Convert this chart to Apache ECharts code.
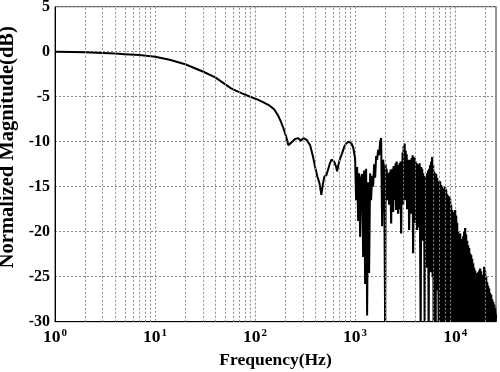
<!DOCTYPE html>
<html><head><meta charset="utf-8">
<script src="https://cdn.jsdelivr.net/npm/echarts@6/dist/echarts.min.js"></script>
<style>html,body{margin:0;padding:0;background:#fff}#c{width:500px;height:372px}</style>
</head><body><div id="c"></div>
<script>
// Frequency (Hz) and normalized magnitude (dB)
const freqHz = [
  1,1.5,2,3,4,5,7,10,14,20,30,40,50,57,65,75,89,105,120,140,155,170,180,192,204,215,225,235,251,270,286,304,328,355,380,398,420,440,460,475,492,517,538,560,580,617,646,660,680,708,741,776,813,860,890,920,960,
  1000,1023,1047,1072,1096,1122,1148,1175,1202,1230,1259,1288,1318,1349,1380,1413,1445,1479,1514,1549,1585,1622,1660,1698,1738,1778,1820,1862,1905,1950,
  1995,2018,2042,2065,2089,2113,2138,2163,2188,2213,2239,2265,2291,2317,2344,2371,2399,2427,2455,2483,2512,2541,2570,2600,2630,2661,2692,2723,2754,2786,
  2818,2851,2884,2917,2951,2985,3020,3055,3090,3126,3162,3199,3236,3273,3311,3350,3388,3428,3467,3508,3548,3589,3631,3673,3715,3758,3802,3846,3890,3936,
  3981,4027,4074,4121,4169,4217,4266,4315,4365,4416,
  4467,4519,4571,4624,4677,4732,4786,4842,4898,4955,5012,5070,5129,5188,5248,5309,5370,5433,5495,5559,5623,5689,5754,5821,5888,5957,6026,6095,6166,6237,
  6310,6383,6457,6532,6607,6684,6761,6839,6918,6998,7079,7161,7244,7328,7413,7499,7586,7674,7762,7852,7943,8035,8128,8222,8318,8414,8511,8610,8710,8811,
  8913,9016,9120,9226,9333,9441,9550,9661,9772,9886,10000,10116,10233,10351,10471,10593,10715,10839,10965,11092,11220,11350,11482,11615,11749,11885,12023,12162,12303,12445,
  12589,12735,12882,13032,13183,13335,13490,13646,13804,13964,14125,14289,14454,14622,14791,14962,15136,15311,15488,15668,15849,16032,16218,16406,16596,16788,16982,17179,17378,17579,
  17783,17989,18197,18408,18621,18836,19055,19275,19498,19724,19953,20184,20417,20654,20893,21135,21380,21627,21878,22131,22387,22646,22909,23174,23442,23714,23988,24266,24547,24831,
  25119,25410,25600
];
const magDb = [
  0,-0.03,-0.07,-0.15,-0.21,-0.27,-0.38,-0.55,-0.9,-1.4,-2.2,-2.85,-3.6,-4.05,-4.35,-4.65,-5.0,-5.3,-5.6,-6.0,-6.4,-7.1,-7.7,-8.5,-9.4,-10.4,-10.2,-10.0,-9.7,-9.6,-9.9,-9.6,-9.8,-10.4,-11.7,-12.8,-13.9,-14.6,-15.9,-14.8,-13.9,-13.7,-13.5,-12.4,-12.0,-12.2,-12.8,-13.3,-12.6,-11.85,-11.3,-10.6,-10.2,-10.0,-9.9,-10.2,-10.7,
  -11.9,-16.5,-12.8,-18.8,-13.5,-20.6,-14.0,-13.6,-22.8,-13.2,-25.8,-13.0,-29.3,-14.5,-24.6,-13.5,-16.5,-13.8,-15.0,-12.5,-14.0,-11.6,-12.0,-10.9,-11.5,-10.0,-9.6,-19.4,-12.0,-13.2,
  -30,-12.5,-16.0,-13.0,-16.5,-13.5,-15.5,-13.8,-17.0,-13.4,-16.0,-13.1,-19.1,-13.6,-16.5,-13.0,-17.8,-12.7,-15.0,-12.9,-16.5,-12.4,-17.6,-12.2,-15.6,-12.6,-18.0,-12.8,-16.0,-12.4,
  -17.5,-12.2,-20.2,-12.5,-16.5,-11.2,-17.0,-10.5,-15.5,-10.2,-16.5,-11.0,-15.5,-11.4,-17.5,-12.0,-16.0,-12.3,-19.8,-12.0,-16.5,-12.2,-18.0,-11.8,-16.5,-11.5,-22.4,-11.7,-17.0,-11.8,
  -19.0,-12.2,-17.0,-12.4,-19.8,-12.5,-17.5,-12.6,-19.5,-12.4,
  -12.5,-30,-12.8,-19.4,-13.0,-21.0,-13.5,-18.0,-13.8,-30,-14.1,-21.2,-13.8,-24.0,-13.5,-19.0,-13.2,-30,-13.0,-22.0,-12.6,-24.5,-12.2,-20.0,-11.7,-25.0,-12.5,-30,-13.3,-22.0,
  -13.5,-30,-13.6,-26.5,-14.0,-23.0,-14.4,-30,-14.6,-28.0,-14.4,-30,-14.8,-29.5,-15.0,-30,-15.2,-27.0,-15.2,-30,-15.0,-30,-15.3,-28.0,-15.8,-30,-16.0,-30,-16.1,-29.0,
  -16.3,-30,-17.0,-30,-17.6,-27.5,-18.0,-30,-17.8,-30,-17.6,-30,-18.2,-29.0,-19.0,-30,-20.0,-30,-20.6,-30,-20.2,-28.0,-20.8,-30,-21.0,-30,-20.5,-26.0,-20.0,-30,
  -19.6,-30,-20.3,-30,-21.0,-28.5,-21.5,-30,-21.8,-30,-22.4,-30,-22.6,-29.0,-23.0,-30,-23.5,-30,-24.0,-30,-24.3,-30,-25.0,-29.5,-24.6,-30,-24.5,-30,-24.3,-30,
  -24.1,-30,-24.4,-30,-25.3,-30,-24.8,-30,-23.9,-30,-24.3,-30,-25.0,-30,-25.6,-30,-26.0,-30,-26.3,-30,-26.8,-30,-27.0,-30,-27.5,-30,-27.8,-30,-28.1,-30,
  -28.5,-30,-29.2
];
const denseStartHz = 1995;   // where the response becomes a dense scribble
const decadeTicks = [1, 10, 100, 1000, 10000];
const decadeExponents = ['0', '1', '2', '3', '4'];
const minorGridHz = [2,3,4,5,6,7,8,9,20,30,40,50,60,70,80,90,200,300,400,500,600,700,800,900,2000,3000,4000,5000,6000,7000,8000,9000,20000];
const xMin = 1, xMax = 25600, yMin = -30, yMax = 5, yStep = 5;

const serif = 'Liberation Serif';
const gridLine = { color: '#8c8c8c', width: 1, type: [2, 2] };

const pts = freqHz.map(function (f, i) { return [f, magDb[i]]; });
const sparse = pts.filter(function (p) { return p[0] <= denseStartHz; });
const dense = pts.filter(function (p) { return p[0] >= denseStartHz; });

const chart = echarts.init(document.getElementById('c'), null, { renderer: 'canvas' });
chart.setOption({
  animation: false,
  backgroundColor: '#fff',
  grid: { left: 55, right: 4, top: 6.7, bottom: 50.3, outerBoundsMode: 'none', containLabel: false,
          show: true, borderColor: '#333', borderWidth: 1, backgroundColor: 'transparent' },
  xAxis: {
    type: 'log', logBase: 10, min: xMin, max: xMax,
    name: 'Frequency(Hz)', nameLocation: 'middle', nameGap: 27,
    nameTextStyle: { fontFamily: serif, fontWeight: 'bold', fontSize: 17.5, color: '#000' },
    axisLine: { onZero: false, lineStyle: { color: '#000', width: 1 } },
    axisTick: { show: false },
    splitLine: { show: true, lineStyle: gridLine },
    axisLabel: {
      showMaxLabel: false, margin: 6,
      formatter: function (v) {
        const i = decadeTicks.indexOf(Math.round(v));
        return i < 0 ? '' : '{b|10}{s|' + decadeExponents[i] + '}';
      },
      rich: {
        b: { fontFamily: serif, fontWeight: 'bold', fontSize: 17.5, color: '#000', lineHeight: 20 },
        s: { fontFamily: serif, fontWeight: 'bold', fontSize: 11, color: '#000', verticalAlign: 'top', lineHeight: 20, padding: [0, 0, 8, 1] }
      }
    }
  },
  yAxis: {
    type: 'value', min: yMin, max: yMax, interval: yStep,
    name: 'Normalized Magnitude(dB)', nameLocation: 'middle', nameGap: 33, nameRotate: 90,
    nameTextStyle: { fontFamily: serif, fontWeight: 'bold', fontSize: 20.5, color: '#000', padding: [0, 0, 0, 34] },
    axisLine: { show: true, onZero: false, lineStyle: { color: '#000', width: 1 } },
    axisTick: { show: false },
    splitLine: { show: true, lineStyle: gridLine },
    axisLabel: { fontFamily: serif, fontWeight: 'bold', fontSize: 16, color: '#000', margin: 5 }
  },
  series: [
    {
      type: 'line', data: [], z: 1, silent: true,
      markLine: {
        silent: true, symbol: 'none', label: { show: false },
        lineStyle: gridLine,
        data: minorGridHz.map(function (f) { return { xAxis: f }; })
      }
    },
    {
      type: 'line', z: 3, showSymbol: false, symbol: 'none', clip: true,
      lineStyle: { color: '#000', width: 2 },
      data: sparse
    },
    {
      type: 'line', z: 3, showSymbol: false, symbol: 'none', clip: true,
      lineStyle: { color: '#000', width: 2.2 },
      data: dense
    }
  ]
});
</script>
</body></html>
